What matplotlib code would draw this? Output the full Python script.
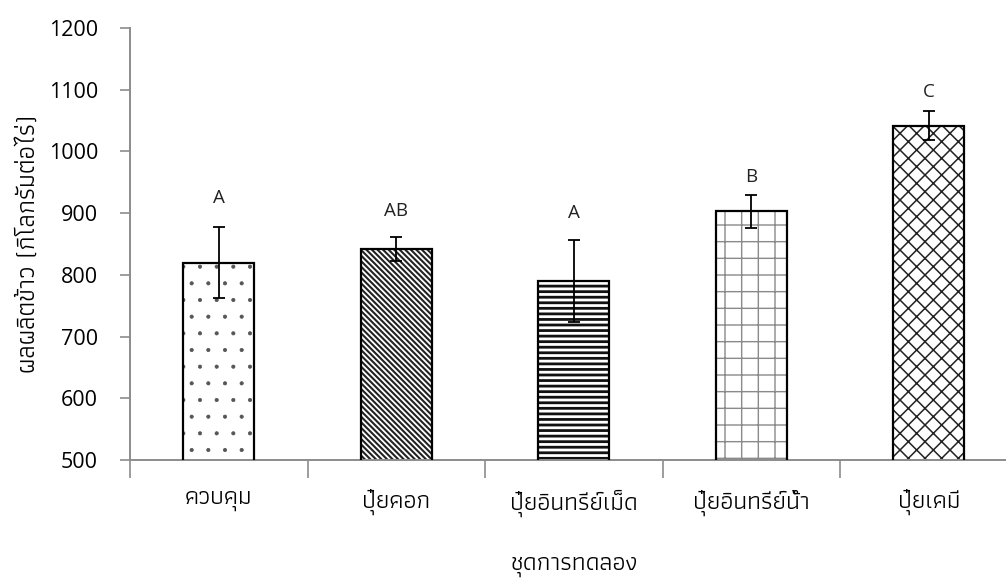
import matplotlib
matplotlib.use("Agg")
import matplotlib.pyplot as plt
import numpy as np

# data
treatments = ["ควบคุม", "ปุ๋ยคอก", "ปุ๋ยอินทรีย์เม็ด", "ปุ๋ยอินทรีย์น้ำ", "ปุ๋ยเคมี"]
yield_kg = [820, 842, 790, 903, 1042]
yield_err = [58, 20, 66, 27, 24]
groups = ["A", "AB", "A", "B", "C"]
group_y = [925, 903, 900, 958, 1096]

# fill style per bar: hatch, hatch colour, hatch line width
hatches = [".", "\\" * 6, "---", "+", "xx"]
hatch_colors = ["#555555", "#222222", "#111111", "#8a8a8a", "#222222"]
hatch_widths = [0.5, 1.5, 2.0, 1.0, 1.1]

thai_font = ["Athiti", "Noto Sans Thai", "DejaVu Sans"]
num_font = ["Open Sans", "DejaVu Sans"]

fig = plt.figure(figsize=(10.06, 5.83), dpi=100)
W, H = 1006, 583
ax = fig.add_axes([130 / W, (H - 460) / H, 887.5 / W, 432 / H])

x = np.arange(len(treatments))
for xi, v, h, hc, hw in zip(x, yield_kg, hatches, hatch_colors, hatch_widths):
    with plt.rc_context({"hatch.linewidth": hw}):
        b = ax.bar(xi, v, width=0.4, color="white", edgecolor=hc,
                   linewidth=0, hatch=h, zorder=2)
    for p in b:
        if hasattr(p, "set_hatch_linewidth"):
            p.set_hatch_linewidth(hw)
ax.bar(x, yield_kg, width=0.4, color="none", edgecolor="black",
       linewidth=1.6, zorder=3)
ax.errorbar(x, yield_kg, yerr=yield_err, fmt="none", ecolor="black",
            elinewidth=1.3, capsize=4.3, capthick=1.3, zorder=4)

for xi, g, gy in zip(x, groups, group_y):
    ax.text(xi, gy, g, ha="center", va="center", fontsize=13.5,
            family=num_font, color="#222222")

ax.set_ylim(500, 1200)
ax.set_xlim(-0.5, len(treatments) - 0.5)
ax.set_yticks(np.arange(500, 1201, 100))

ax.set_xticks(np.arange(-0.5, len(treatments), 1.0))
ax.set_xticklabels([])
ax.set_xticks(x, minor=True)
ax.set_xticklabels(treatments, minor=True, family=thai_font, fontsize=18)
ax.tick_params(axis="x", which="minor", length=0, pad=21)
ax.tick_params(axis="x", which="major", length=13, width=1.2,
               color="#8c8c8c", direction="out")
ax.tick_params(axis="y", length=7, width=1.2, color="#8c8c8c",
               direction="out", pad=16, labelsize=15.5)
for lab in ax.get_yticklabels():
    lab.set_family(num_font)

for side in ["top", "right"]:
    ax.spines[side].set_visible(False)
for side in ["left", "bottom"]:
    ax.spines[side].set_color("#8c8c8c")
    ax.spines[side].set_linewidth(1.4)

ax.set_xlabel("ชุดการทดลอง", family=thai_font, fontsize=18, labelpad=28)
ax.set_ylabel("ผลผลิตข้าว (กิโลกรัมต่อไร่)", family=thai_font, fontsize=18.5)
ax.yaxis.set_label_coords(-90 / 887.5, 0.5)

fig.savefig("out.png", dpi=100)
